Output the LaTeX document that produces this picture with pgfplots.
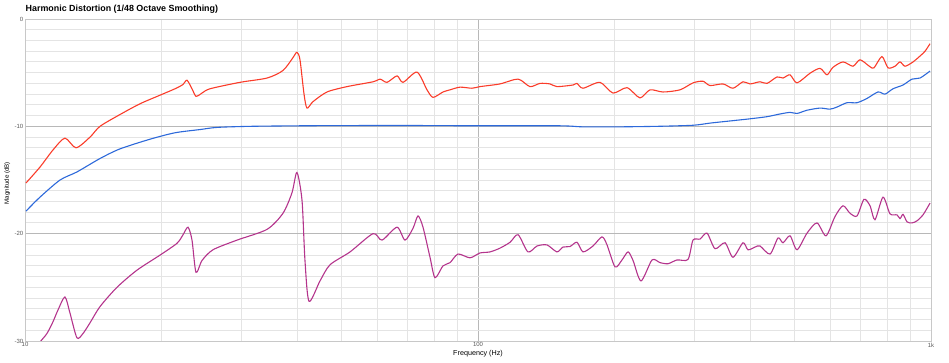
\documentclass[border=0pt]{standalone}
\usepackage{fontspec}
\setmainfont{Liberation Sans}
\usepackage{pgfplots}
\pgfplotsset{compat=1.18}
\usepackage{pgfplotstable}
\definecolor{cred}{RGB}{250,60,42}
\definecolor{cblue}{RGB}{45,105,218}
\definecolor{cpurple}{RGB}{180,52,140}
\definecolor{majgrid}{RGB}{184,184,184}
\definecolor{mingrid}{RGB}{228,228,228}
\definecolor{frame}{RGB}{200,200,200}

\pgfplotstableread{
f db
10.05 -15.28
10.79 -13.8
11.53 -12.2
12.25 -11.1
12.96 -12.0
13.92 -11.0
14.64 -10.0
16.21 -8.9
17.94 -7.9
19.86 -7.1
21.44 -6.5
22.33 -6.1
22.78 -5.7
23.37 -6.5
23.85 -7.2
24.59 -6.9
25.61 -6.5
29.83 -5.9
34.22 -5.5
37.11 -4.8
39.05 -3.6
39.85 -3.1
40.46 -3.8
41.30 -7.0
41.93 -8.3
43.23 -7.7
46.42 -6.8
51.38 -6.3
58.65 -5.85
60.77 -5.6
62.97 -5.9
66.26 -5.3
68.31 -5.9
73.35 -4.95
77.18 -6.6
79.57 -7.3
83.71 -6.8
86.74 -6.6
91.27 -6.35
97.01 -6.45
101.0 -6.3
111.8 -6.05
122.6 -5.6
130.2 -6.3
137.0 -6.0
144.2 -6.05
149.4 -6.3
162.1 -6.15
165.4 -6.0
170.5 -6.45
185.9 -5.9
198.6 -6.9
213.3 -6.4
227.8 -7.35
239.7 -6.6
256.1 -6.8
279.2 -6.6
298.3 -5.95
313.8 -5.8
325.2 -6.2
347.4 -6.05
365.5 -6.45
384.6 -5.85
398.5 -6.05
419.3 -5.85
434.5 -6.0
457.1 -5.4
471.3 -5.5
488.4 -5.2
506.1 -5.95
540.7 -5.05
568.9 -4.6
589.5 -5.2
607.7 -4.5
639.4 -4.0
672.7 -4.4
697.1 -3.8
733.5 -4.45
748.5 -4.55
779.4 -3.5
803.7 -4.55
832.8 -4.4
854.3 -4.0
876.3 -4.4
912.6 -4.0
945.7 -3.45
970.1 -3.0
995 -2.3
}\redtable

\pgfplotstableread{
f db
10.05 -17.9
10.79 -16.6
11.95 -15.0
13.02 -14.25
14.64 -13.0
16.21 -12.1
18.88 -11.2
21.44 -10.6
24.34 -10.3
26.54 -10.1
31.38 -10.0
40.46 -9.95
52.18 -9.93
68.0 -9.92
100 -9.95
151.7 -9.95
170.5 -10.05
202.7 -10.05
248.4 -10.0
298.3 -9.9
325.2 -9.7
360.0 -9.5
398.5 -9.3
434.5 -9.1
464.2 -8.85
488.4 -8.7
506.1 -8.8
532.5 -8.5
568.9 -8.3
598.5 -8.4
620.2 -8.2
652.5 -7.8
686.5 -7.8
722.3 -7.4
763.9 -6.8
791.5 -7.0
824.4 -6.5
867.4 -6.15
908.0 -5.6
945.7 -5.5
995 -4.85
}\bluetable

\pgfplotstableread{
f db
10.5 -30.8
10.79 -30.1
11.18 -29.3
11.53 -28.2
11.83 -27.1
12.25 -25.9
12.57 -27.4
13.02 -29.7
13.43 -29.3
13.92 -28.3
14.64 -26.8
15.96 -25.0
17.67 -23.4
19.86 -22.0
21.65 -20.9
22.33 -20.1
22.90 -19.4
23.37 -20.6
23.85 -23.6
24.59 -22.5
26.00 -21.5
29.38 -20.6
34.22 -19.6
37.11 -18.1
38.85 -16.2
39.85 -14.3
40.88 -16.9
41.50 -22.5
42.36 -26.3
44.80 -24.4
47.13 -22.9
52.18 -21.7
58.65 -20.0
61.39 -20.6
66.26 -19.4
69.00 -20.6
71.87 -19.5
73.72 -18.35
75.62 -19.4
78.36 -22.2
80.37 -24.1
83.71 -23.0
86.74 -22.7
90.34 -21.9
96.02 -22.25
101.0 -21.8
106.3 -21.7
111.8 -21.35
117.7 -20.8
122.6 -20.1
128.9 -21.7
135.0 -21.15
142.0 -21.05
149.4 -21.7
154.0 -21.25
159.6 -21.2
165.4 -20.8
170.5 -21.7
179.4 -21.15
187.8 -20.3
192.7 -21.05
200.7 -23.1
207.9 -22.45
214.4 -21.7
219.9 -22.5
229.0 -24.4
242.2 -22.45
252.2 -22.7
262.7 -22.8
275.0 -22.45
290.8 -22.4
298.3 -20.6
309.1 -20.5
320.3 -19.95
333.6 -21.4
351.0 -20.85
365.5 -22.2
384.6 -20.85
394.5 -21.5
408.8 -21.25
419.3 -21.15
441.2 -21.9
459.5 -20.4
471.3 -20.85
488.4 -20.2
506.1 -21.5
532.5 -19.95
560.2 -19.0
586.5 -20.2
613.9 -18.4
639.4 -17.4
662.6 -18.1
686.5 -18.35
711.4 -16.8
733.5 -17.4
752.3 -18.7
783.6 -16.6
811.9 -18.15
841.4 -18.25
854.3 -18.6
867.4 -18.2
885.3 -18.9
908.0 -19.0
931.4 -18.8
960.2 -18.25
995 -17.15
}\purpletable

\begin{document}
\begin{tikzpicture}
\path[use as bounding box] (-25pt,-22pt) rectangle (924pt,341pt);
\begin{axis}[
  scale only axis,
  width=906pt, height=322pt,
  xmode=log, log basis x=10,
  xmin=10, xmax=1000, ymin=-30, ymax=0,
  xtick={10,100,1000}, xticklabels={10,100,1k},
  minor xtick={20,30,40,50,60,70,80,90,200,300,400,500,600,700,800,900},
  ytick={-30,-20,-10,0}, yticklabels={-30,-20,-10,0},
  minor ytick={-29,-28,-27,-26,-25,-24,-23,-22,-21,-19,-18,-17,-16,-15,-14,-13,-12,-11,-9,-8,-7,-6,-5,-4,-3,-2,-1},
  grid=both,
  major grid style={draw=majgrid, line width=0.9pt},
  minor grid style={draw=mingrid, line width=0.9pt},
  axis line style={draw=frame, line width=0.9pt},
  major tick length=0pt, minor tick length=0pt,
  tick style={draw=none},
  xticklabel style={font=\fontsize{6}{7}\selectfont, text=black!65, inner sep=1.5pt},
  yticklabel style={font=\fontsize{6}{7}\selectfont, text=black!65, inner sep=1.5pt},
  xlabel={Frequency (Hz)},
  ylabel={Magnitude (dB)},
  xlabel style={at={(axis description cs:0.5,-0.040)}, anchor=center, font=\fontsize{7.2}{8}\selectfont},
  ylabel style={at={(axis description cs:-0.0195,0.49)}, anchor=center, font=\fontsize{6.2}{7}\selectfont},
  title={\bfseries Harmonic Distortion (1/48 Octave Smoothing)},
  title style={at={(axis description cs:0,1)}, anchor=base west, xshift=0.5pt, yshift=1.8pt, inner sep=0pt, font=\fontsize{8.9}{10}\selectfont},
  every axis plot/.append style={line width=1.1pt, smooth, tension=0.45},
]
\addplot[cred, no marks] table[x=f, y=db] {\redtable};
\addplot[cblue, no marks] table[x=f, y=db] {\bluetable};
\addplot[cpurple, no marks] table[x=f, y=db] {\purpletable};
\end{axis}
\end{tikzpicture}
\end{document}
